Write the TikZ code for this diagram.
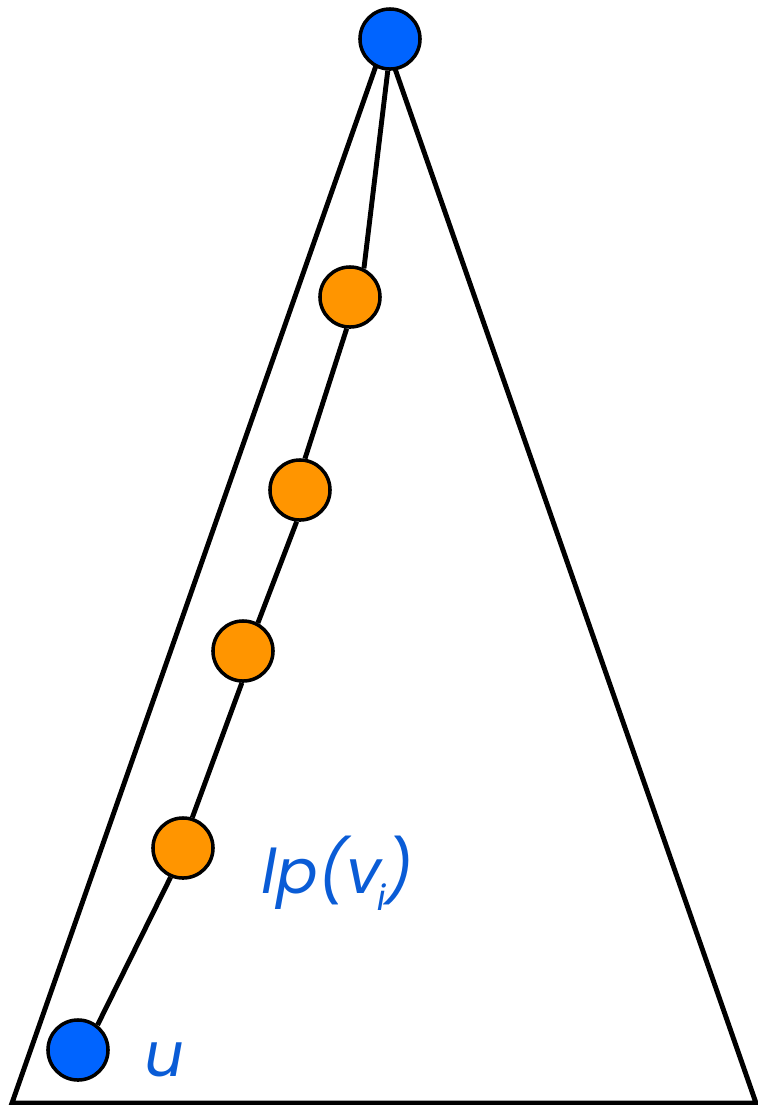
\documentclass[tikz,border=0pt]{standalone}
\usepackage{fontspec}
\newfontfamily\lbl[FakeSlant=0.18]{Poppins}
\definecolor{nodeblue}{HTML}{0064FF}
\definecolor{nodeorange}{HTML}{FF9500}
\definecolor{textblue}{HTML}{0A5CD6}
\begin{document}
\begin{tikzpicture}[x=0.01cm,y=-0.01cm,
  edge/.style={line width=1.4pt,black},
  dot/.style={circle,draw=black,line width=1pt,minimum size=0.6cm,inner sep=0pt},
  bluedot/.style={dot,fill=nodeblue},
  orangedot/.style={dot,fill=nodeorange},
  lab/.style={anchor=base west,text=textblue,inner sep=0pt,font=\lbl\fontsize{17.5}{21}\selectfont}]
\useasboundingbox (0,0) rectangle (758,1105);
% triangle
\coordinate (apex) at (385,40);
\coordinate (bl) at (12,1103);
\coordinate (br) at (756,1103);
\draw[edge,line join=miter] (apex) -- (bl) -- (br) -- cycle;
% nodes
\node[bluedot] (top) at (390,39) {};
\node[orangedot] (o1) at (350,297) {};
\node[orangedot] (o2) at (300,490) {};
\node[orangedot] (o3) at (243,651) {};
\node[orangedot] (o4) at (183,848) {};
\node[bluedot] (u) at (78,1050) {};
% path
\draw[edge] (top.266) -- (o1.64);
\draw[edge] (o1.264) -- (o2.81);
\draw[edge] (o2.264) -- (o3.62);
\draw[edge] (o3.268) -- (o4.73);
\draw[edge] (o4.247) -- (u.52);
% labels
\node[lab] (lu) at (141,1076) {u};
\node[lab] (lv) at (258,893) {lp(v\kern-0.04em\raisebox{-0.28em}{\fontsize{10}{12}\selectfont i}\kern-0.02em)};
\end{tikzpicture}
\end{document}
